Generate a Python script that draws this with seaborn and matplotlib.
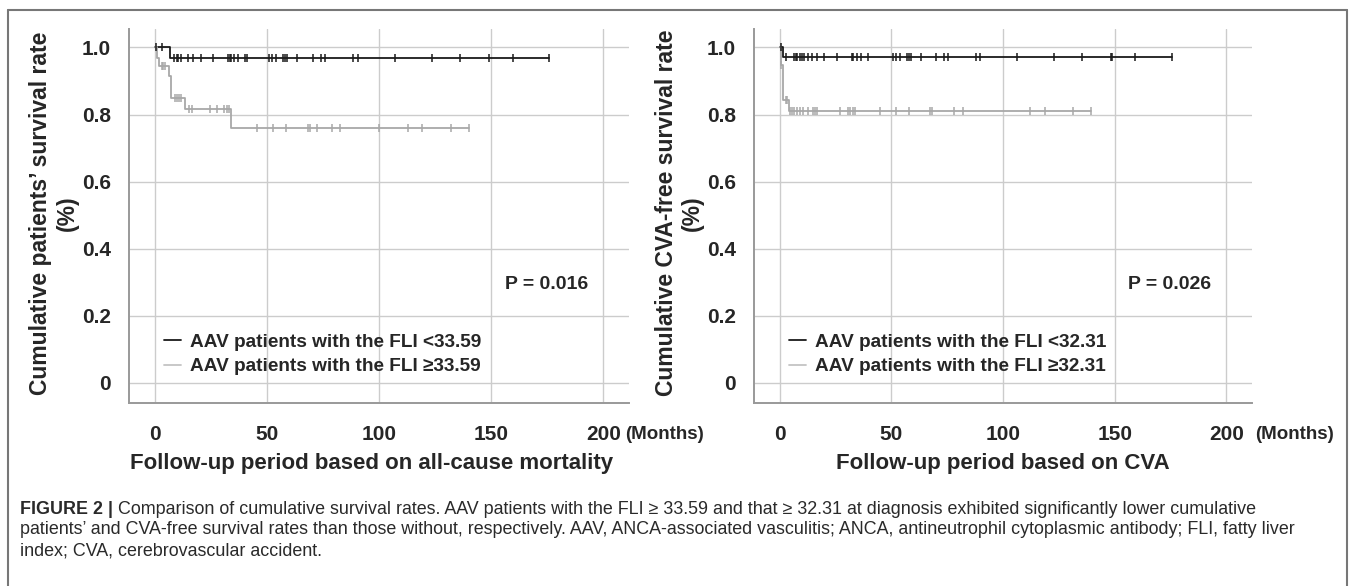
import numpy as np
import pandas as pd
import seaborn as sns
from matplotlib import pyplot as plt
from matplotlib.lines import Line2D

# all-cause mortality panel: step curve (time, survival) and censor times
mort_low_t = [0, 7, 176]
mort_low_s = [1.0, 0.97, 0.97]
mort_low_cens = [0.5, 3.3, 8.6, 9.7, 10.4, 11.9, 14.9, 17.1, 20.4, 26.0, 32.7, 33.5, 34.2, 35.3,
                 37.2, 40.2, 41.2, 51.0, 52.5, 54.0, 57.0, 58.0, 58.8, 63.5, 70.4, 74.0, 75.7,
                 88.2, 90.6, 107.1, 123.5, 136.2, 149.2, 159.7, 176]
mort_high_t = [0, 1, 2, 6.5, 7.4, 13.4, 34.2, 140.3]
mort_high_s = [1.0, 0.97, 0.945, 0.915, 0.85, 0.816, 0.76, 0.76]
mort_high_cens = [3.0, 3.7, 4.5, 8.9, 9.7, 10.9, 11.9, 15.3, 16.4, 24.6, 27.8, 30.9, 32.0, 33.0,
                  45.7, 52.8, 58.3, 68.4, 69.2, 72.5, 78.9, 82.6, 100.1, 113.1, 119.1, 132.0, 140.3]

# CVA panel
cva_low_t = [0, 1.4, 175.7]
cva_low_s = [1.0, 0.971, 0.971]
cva_low_cens = [0.5, 2.9, 6.2, 7.2, 7.9, 9.1, 9.8, 11.1, 12.8, 14.3, 16.8, 20.0, 25.8, 32.4, 32.9,
                34.7, 36.6, 39.6, 50.7, 51.9, 53.7, 56.9, 57.8, 58.6, 63.3, 70.0, 73.7, 75.5,
                87.8, 89.6, 106.4, 122.7, 135.3, 148.4, 148.9, 159.1, 175.7]
cva_high_t = [0, 0.4, 1.4, 4.3, 139.3]
cva_high_s = [1.0, 0.948, 0.843, 0.812, 0.812]
cva_high_cens = [0.8, 2.9, 3.5, 4.7, 5.4, 6.6, 7.6, 9.1, 10.3, 12.8, 15.1, 15.8, 16.6, 26.9, 30.7,
                 31.4, 32.9, 33.6, 45.1, 52.2, 57.7, 67.5, 68.2, 78.2, 81.9, 112.3, 118.6, 131.3, 139.3]

x_ticks = [0, 50, 100, 150, 200]
y_ticks = [0, 0.2, 0.4, 0.6, 0.8, 1.0]
y_ticklabels = ['0', '0.2', '0.4', '0.6', '0.8', '1.0']

panels = [
    dict(low=(mort_low_t, mort_low_s, mort_low_cens), high=(mort_high_t, mort_high_s, mort_high_cens),
         labels=['AAV patients with the FLI <33.59', 'AAV patients with the FLI \u226533.59'],
         ylabel='Cumulative patients\u2019 survival rate\n(%)',
         xlabel='Follow-up period based on all-cause mortality', p='P = 0.016',
         rect=(129, 29, 629, 403), months_x=0.992, xlab_x=0.485),
    dict(low=(cva_low_t, cva_low_s, cva_low_cens), high=(cva_high_t, cva_high_s, cva_high_cens),
         labels=['AAV patients with the FLI <32.31', 'AAV patients with the FLI \u226532.31'],
         ylabel='Cumulative CVA-free survival rate\n(%)',
         xlabel='Follow-up period based on CVA', p='P = 0.026',
         rect=(754, 29, 1252, 403), months_x=1.006, xlab_x=0.5),
]

sns.set_style('white')
plt.rcParams['font.family'] = ['Liberation Sans', 'DejaVu Sans']

W, H = 1355, 586
fig = plt.figure(figsize=(W / 100, H / 100), dpi=100)

BLACK = '#1a1a1a'
GREY = '#a8a8a8'


def step_at(t, s, c):
    idx = np.searchsorted(np.asarray(t), np.asarray(c), side='right') - 1
    return np.asarray(s)[idx]


for pan in panels:
    x0, y0, x1, y1 = pan['rect']
    ax = fig.add_axes([x0 / W, 1 - y1 / H, (x1 - x0) / W, (y1 - y0) / H])
    for (t, s, cens), col, lab in zip([pan['low'], pan['high']], [BLACK, GREY], pan['labels']):
        df = pd.DataFrame({'time': t, 'surv': s})
        sns.lineplot(data=df, x='time', y='surv', drawstyle='steps-post', estimator=None,
                     color=col, lw=1.3, ax=ax, label=lab)
        cdf = pd.DataFrame({'time': cens, 'surv': step_at(t, s, cens)})
        sns.scatterplot(data=cdf, x='time', y='surv', marker='|', s=40, color=col,
                        linewidth=1.1, ax=ax, legend=False, zorder=3)

    ax.set_xlim(-11.5, 211.5)
    ax.set_ylim(-0.06, 1.055)
    ax.set_xticks(x_ticks)
    ax.set_xticklabels([str(v) for v in x_ticks])
    ax.set_yticks(y_ticks)
    ax.set_yticklabels(y_ticklabels)
    ax.grid(True, color='#cccccc', lw=1)
    ax.set_axisbelow(True)
    for side in ['top', 'right']:
        ax.spines[side].set_visible(False)
    for side in ['left', 'bottom']:
        ax.spines[side].set_color('#999999')
        ax.spines[side].set_linewidth(1.4)
    ax.tick_params(axis='x', length=9, color='#cccccc', width=1, pad=7)
    ax.tick_params(axis='y', length=4, color='#cccccc', width=1, pad=9)
    for lab in ax.get_xticklabels() + ax.get_yticklabels():
        lab.set_fontsize(15)
        lab.set_fontweight('bold')

    ax.set_xlabel(pan['xlabel'], fontsize=16, fontweight='bold')
    ax.xaxis.set_label_coords(pan['xlab_x'], -0.134)
    ax.set_ylabel(pan['ylabel'], fontsize=16.5, fontweight='bold', linespacing=1.2)
    ax.yaxis.set_label_coords(-0.1, 0.508)
    ax.text(pan['months_x'], -0.083, '(Months)', transform=ax.transAxes, ha='left', va='center',
            fontsize=13.5, fontweight='bold')
    ax.text(0.835, 0.318, pan['p'], transform=ax.transAxes, ha='center', va='center',
            fontsize=14, fontweight='bold')

    handles = [Line2D([], [], color=BLACK, lw=1.3), Line2D([], [], color='#c4c4c4', lw=1.3)]
    ax.legend(handles, pan['labels'], loc='center left', bbox_to_anchor=(0.055, 0.13),
              frameon=False, prop=dict(size=13.7, weight='bold'), handlelength=0.9,
              handletextpad=0.45, labelspacing=0.38, borderaxespad=0)

# outer frame
frame_col = '#777777'
fig.add_artist(Line2D([8 / W, 1347 / W], [1 - 10 / H, 1 - 10 / H], color=frame_col, lw=1.5))
fig.add_artist(Line2D([8 / W, 8 / W], [1 - 10 / H, 0], color=frame_col, lw=1.5))
fig.add_artist(Line2D([1347 / W, 1347 / W], [1 - 10 / H, 0], color=frame_col, lw=1.5))

# caption
cap_lines = [
    'Comparison of cumulative survival rates. AAV patients with the FLI \u2265 33.59 and that \u2265 32.31 at diagnosis exhibited significantly lower cumulative',
    'patients\u2019 and CVA-free survival rates than those without, respectively. AAV, ANCA-associated vasculitis; ANCA, antineutrophil cytoplasmic antibody; FLI, fatty liver',
    'index; CVA, cerebrovascular accident.',
]
cap_size = 12.9
cap_col = '#2a2a2a'
bold_txt = fig.text(20 / W, 1 - 509 / H, 'FIGURE 2 | ', fontsize=cap_size, fontweight='bold',
                    color=cap_col, va='center')
fig.canvas.draw()
bb = bold_txt.get_window_extent()
fig.text(bb.x1 / W, 1 - 509 / H, cap_lines[0], fontsize=cap_size, color=cap_col, va='center')
fig.text(20 / W, 1 - 530 / H, cap_lines[1], fontsize=cap_size, color=cap_col, va='center')
fig.text(20 / W, 1 - 551 / H, cap_lines[2], fontsize=cap_size, color=cap_col, va='center')

fig.savefig('out.png', dpi=100)
